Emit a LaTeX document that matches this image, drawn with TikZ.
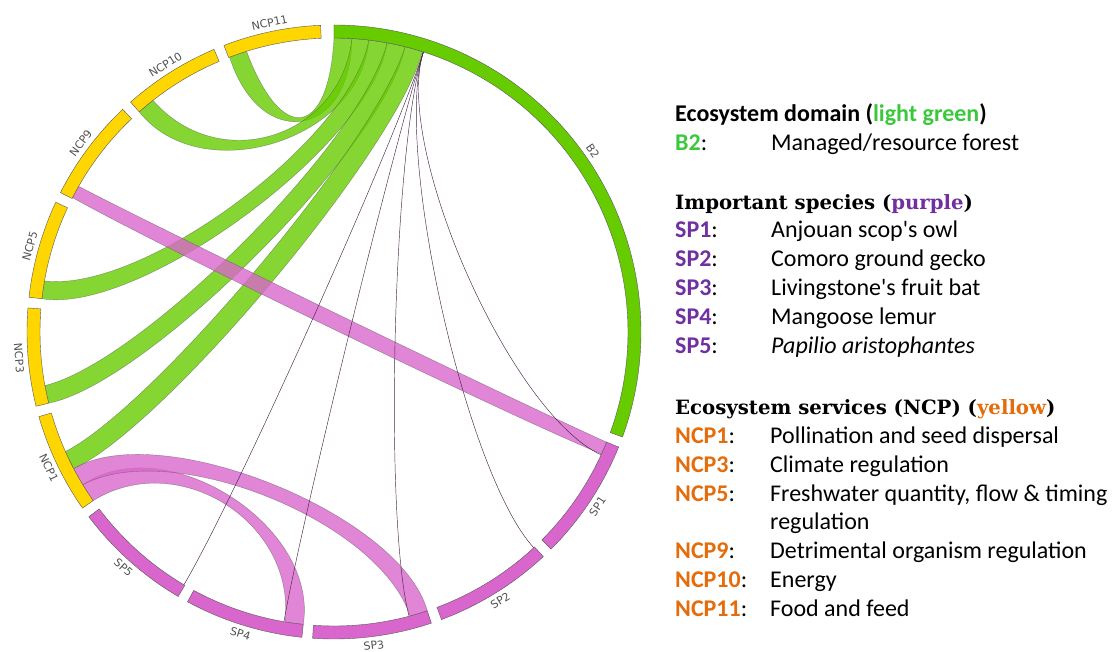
\documentclass[tikz,border=0pt]{standalone}
\usepackage{fontspec}
\setmainfont{Carlito}
\newfontfamily\headfont{DejaVu Serif}
\newfontfamily\ringfont{DejaVu Sans}
\usetikzlibrary{positioning}
\definecolor{forest}{RGB}{102,204,0}
\definecolor{species}{RGB}{217,102,204}
\definecolor{service}{RGB}{255,214,0}
\definecolor{keygreen}{RGB}{60,200,60}
\definecolor{keypurple}{RGB}{112,48,160}
\definecolor{keyorange}{RGB}{228,108,10}
\definecolor{linkdark}{RGB}{70,40,70}

% ribbon between two arcs on the inner ring: #1-#2 and #3-#4
\newcommand{\ribbon}[5]{%
  \pgfmathsetmacro\amid{(#1+#2)/2}\pgfmathsetmacro\bmid{(#3+#4)/2}%
  \pgfmathsetmacro\ctla{\amid+\spread*(#1-\amid)}%
  \pgfmathsetmacro\ctlb{\amid+\spread*(#2-\amid)}%
  \pgfmathsetmacro\ctlc{\bmid+\spread*(#3-\bmid)}%
  \pgfmathsetmacro\ctld{\bmid+\spread*(#4-\bmid)}%
  \filldraw[band=#5] (#1:\ringin) arc[start angle=#1, end angle=#2, radius=\ringin]
    .. controls (\ctlb:\ctrlr) and (\ctlc:\ctrlr) .. (#3:\ringin)
    arc[start angle=#3, end angle=#4, radius=\ringin]
    .. controls (\ctld:\ctrlr) and (\ctla:\ctrlr) .. (#1:\ringin) -- cycle;}

\begin{document}
\begin{tikzpicture}[x=1pt, y=1pt,
  sector/.style={fill=#1, draw=black!65, line width=0.4pt},
  band/.style={fill=#1, fill opacity=0.8, draw=black!70, draw opacity=0.6, line width=0.35pt},
  thinlink/.style={draw=linkdark, line width=0.45pt},
  ringlabel/.style={font=\ringfont\fontsize{11}{13}\selectfont, text=black!68, inner sep=0pt},
  headsans/.style={anchor=base west, inner sep=0pt, font=\fontsize{24}{29}\selectfont\bfseries},
  headserif/.style={anchor=base west, inner sep=0pt, font=\headfont\fontsize{19.7}{24}\selectfont\bfseries},
  keytext/.style={anchor=base west, inner sep=0pt, font=\fontsize{24}{29}\selectfont},
  desctext/.style={anchor=base west, inner sep=0pt, font=\fontsize{24}{29}\selectfont},
]
\useasboundingbox (-334,-320) rectangle (780,332);
\def\ringout{307}
\def\ringin{294}
\def\ringtext{316}
\def\ctrlr{194}
\def\spread{1.9}

% green ribbons from B2
\ribbon{90}{86.5}{110.8}{107.3}{forest}
\ribbon{86.5}{83.2}{131.5}{128}{forest}
\ribbon{83.2}{79.6}{173.5}{170}{forest}
\ribbon{79.6}{76}{-166}{-169.5}{forest}
\ribbon{76}{72.5}{-152.3}{-156}{forest}

% pink ribbons
\ribbon{-145}{-148.7}{-96}{-99.6}{species}
\ribbon{-148.7}{-152.3}{-71.5}{-75}{species}
\ribbon{152.8}{150.3}{-22}{-24.5}{species}

\foreach \e in {-24.7,-47.2,-75.2,-99.8,-120.7}
  \draw[thinlink] (72.3:\ringin) .. controls (72.3:\ctrlr) and (\e:\ctrlr) .. (\e:\ringin);

\foreach \s/\e/\col/\lab in {90/-20/forest/B2, -22/-45/species/SP1, -47/-69.5/species/SP2,
    -71.5/-94/species/SP3, -96/-118.5/species/SP4, -120.5/-143/species/SP5,
    -145/-164/service/NCP1, -166/-184.5/service/NCP3, 173.5/155/service/NCP5,
    153/133.5/service/NCP9, 131.5/113/service/NCP10, 111/92.5/service/NCP11}
{
  \filldraw[sector=\col] (\s:\ringout) arc[start angle=\s, end angle=\e, radius=\ringout]
    -- (\e:\ringin) arc[start angle=\e, end angle=\s, radius=\ringin] -- cycle;
  \pgfmathsetmacro\segmid{(\s+\e)/2}
  \pgfmathsetmacro\segtilt{\segmid>0 ? \segmid-90 : \segmid+90}
  \node[ringlabel, rotate=\segtilt] (\lab) at (\segmid:\ringtext) {\lab};
}

% legend
\node[headsans] (dom-head) at (341,210) {Ecosystem domain (\textcolor{keygreen}{light green})};
\node[keytext] (key-B2) at (341,181) {\textcolor{keygreen}{\textbf{B2}}:};
\node[desctext] (desc-B2) at (437,181) {Managed/resource forest};

\node[headserif] (sp-head) at (341,122) {Important species (\textcolor{keypurple}{purple})};
\foreach \code/\desc [count=\i from 0] in {SP1/Anjouan scop\textquotesingle s owl, SP2/Comoro ground gecko,
    SP3/Livingstone\textquotesingle s fruit bat, SP4/Mangoose lemur, SP5/\textit{Papilio aristophantes}}
{
  \node[keytext] (key-\code) at (341,94-29*\i) {\textcolor{keypurple}{\textbf{\code}}:};
  \node[desctext] (desc-\code) at (437,94-29*\i) {\desc};
}

\node[headserif] (ncp-head) at (341,-83) {Ecosystem services (NCP) (\textcolor{keyorange}{yellow})};
\foreach \code/\y/\desc in {NCP1/-112/Pollination and seed dispersal, NCP3/-141/Climate regulation,
    NCP5/-170/{Freshwater quantity, flow \& timing}, NCP9/-227/Detrimental organism regulation,
    NCP10/-256/Energy, NCP11/-285/Food and feed}
{
  \node[keytext] (key-\code) at (341,\y) {\textcolor{keyorange}{\textbf{\code}}:};
  \node[desctext] (desc-\code) at (436,\y) {\desc};
}
\node[desctext] (desc-NCP5b) at (436,-198) {regulation};

\end{tikzpicture}
\end{document}
